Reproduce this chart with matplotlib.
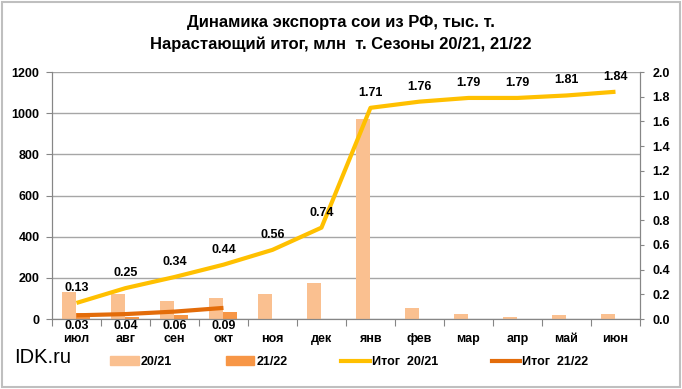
import matplotlib
matplotlib.use("Agg")
import matplotlib.pyplot as plt
from matplotlib.patches import Rectangle, Patch
from matplotlib.lines import Line2D

plt.rcParams['font.family'] = ['Liberation Sans', 'DejaVu Sans']

months = ["июл", "авг", "сен", "окт", "ноя", "дек", "янв", "фев", "мар", "апр", "май", "июн"]
exp_2021 = [131, 121, 87, 102, 121, 175, 971, 53, 24, 8, 19, 24]
exp_2122 = [28, 12, 18, 33]
cum_2021 = [0.13, 0.25, 0.34, 0.44, 0.56, 0.74, 1.71, 1.76, 1.79, 1.79, 1.81, 1.84]
cum_2122 = [0.03, 0.04, 0.06, 0.09]

c_bar1 = "#FAC090"
c_bar2 = "#F79646"
c_line1 = "#FFC000"
c_line2 = "#E36C0A"
fs = 9

fig = plt.figure(figsize=(6.82, 3.89), dpi=100)
ax = fig.add_axes([0.0762, 0.1799, 0.8622, 0.635])
ax2 = ax.twinx()

x = list(range(len(months)))
x2 = list(range(len(exp_2122)))
w = 0.29
ax.bar([i - 0.16 for i in x], exp_2021, width=w, color=c_bar1, zorder=2)
ax.bar([i + 0.14 for i in x2], exp_2122, width=w, color=c_bar2, zorder=2)
ax.set_ylim(0, 1200)
ax.set_yticks(range(0, 1201, 200))
ax.set_xlim(-0.5, len(months) - 0.5)
ax.set_xticks([i + 0.5 for i in range(-1, len(months))])
ax.set_xticklabels([])
ax.tick_params(axis='x', length=5, color="#868686")
ax.tick_params(axis='y', length=4, color="#868686", labelsize=fs, pad=5)
for lab in ax.get_yticklabels():
    lab.set_fontweight('bold')
ax.grid(axis='y', color="#A6A6A6", lw=1, zorder=0)
ax.set_axisbelow(True)
ax.spines['top'].set_visible(False)
ax2.spines['top'].set_visible(False)
for s in ['left', 'right', 'bottom']:
    ax.spines[s].set_color("#868686")
    ax2.spines[s].set_color("#868686")

ax2.plot(x, cum_2021, color=c_line1, lw=3, solid_capstyle='butt', zorder=3)
ax2.plot(x2, cum_2122, color=c_line2, lw=3, solid_capstyle='butt', zorder=3)
ax2.set_ylim(0, 2.0)
ax2.set_yticks([i / 10 for i in range(0, 21, 2)])
ax2.set_yticklabels(["%.1f" % (i / 10) for i in range(0, 21, 2)])
ax2.tick_params(axis='y', length=3, color="#868686", labelsize=fs, pad=6)
for lab in ax2.get_yticklabels():
    lab.set_fontweight('bold')

for i, v in enumerate(cum_2021):
    ax2.annotate("%.2f" % v, (i, v), xytext=(0, 6.5), textcoords='offset points',
                 ha='center', va='bottom', fontsize=fs, fontweight='bold')
for i, v in enumerate(cum_2122):
    ax2.annotate("%.2f" % v, (i, 0), xytext=(0, -1), textcoords='offset points',
                 ha='center', va='top', fontsize=fs, fontweight='bold')
for i, m in enumerate(months):
    ax.annotate(m, (i, 0), xytext=(0, -10), textcoords='offset points',
                ha='center', va='top', fontsize=fs, fontweight='bold')

tfam = ['Liberation Sans Narrow', 'Liberation Sans', 'DejaVu Sans']
fig.text(0.5, 0.943, "Динамика экспорта сои из РФ, тыс. т.", ha='center', va='center',
         fontsize=12, fontweight='bold', family=tfam)
fig.text(0.5, 0.887, "Нарастающий итог, млн  т. Сезоны 20/21, 21/22", ha='center', va='center',
         fontsize=12, fontweight='bold', family=tfam)
fig.text(0.021, 0.082, "IDK.ru", ha='left', va='center', fontsize=14.5)

handles = [Patch(color=c_bar1), Patch(color=c_bar2),
           Line2D([], [], color=c_line1, lw=3), Line2D([], [], color=c_line2, lw=3)]
labels = ["20/21", "21/22", "Итог  20/21", "Итог  21/22"]
leg = fig.legend(handles, labels, loc='center', bbox_to_anchor=(0.512, 0.069), ncol=4,
                 frameon=False, handlelength=2.3, handletextpad=0.15,
                 columnspacing=4.3, prop={'weight': 'bold', 'size': fs})

fig.add_artist(Rectangle((0.003, 0.004), 0.994, 0.992, transform=fig.transFigure,
                         fill=False, ec="#BFBFBF", lw=1.5))

fig.savefig("out.png", dpi=100)
